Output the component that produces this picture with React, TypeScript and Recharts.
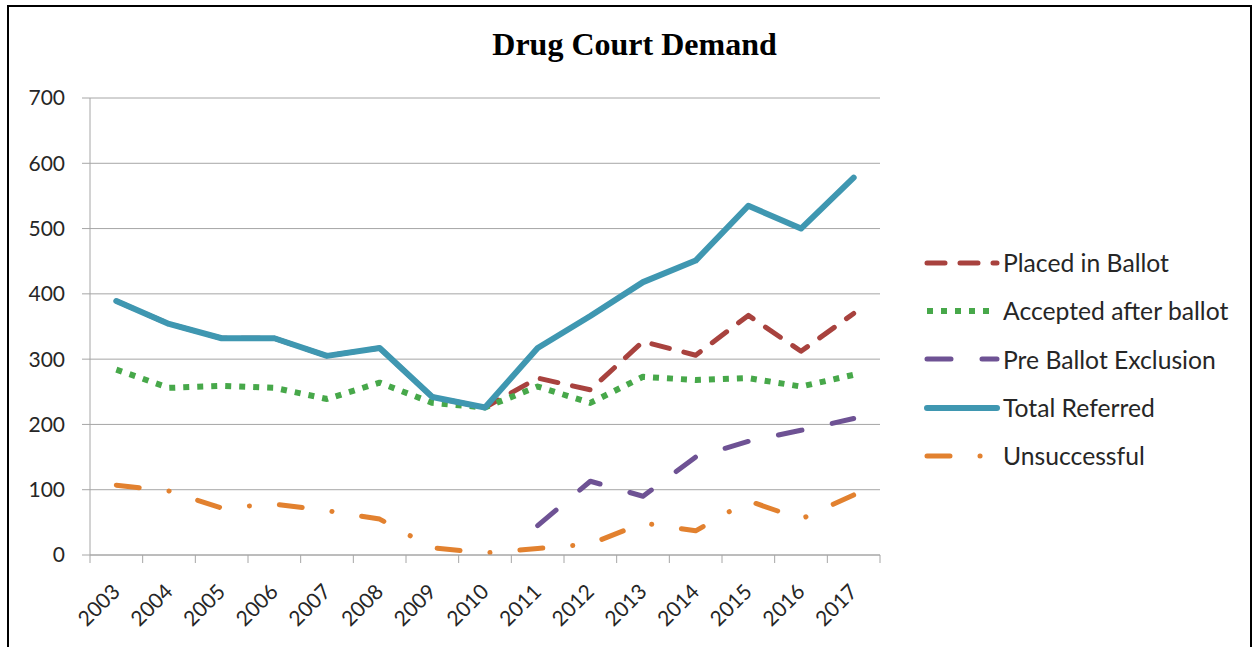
import React from 'react';
import { CartesianGrid, Line, LineChart, XAxis, YAxis } from 'recharts';

const years = ['2003', '2004', '2005', '2006', '2007', '2008', '2009', '2010', '2011', '2012', '2013', '2014', '2015', '2016', '2017'];
const placedInBallot = [389, 354, 332, 332, 305, 317, 242, 226, 271, 253, 327, 306, 367, 312, 370];
const acceptedAfterBallot = [284, 256, 259, 256, 239, 264, 233, 226, 258, 233, 273, 268, 271, 258, 276];
const preBallotExclusion = [null, null, null, null, null, null, null, null, 45, 113, 90, 150, 174, 191, 209];
const totalReferred = [389, 354, 332, 332, 305, 317, 242, 226, 317, 366, 418, 451, 535, 500, 578];
const unsuccessful = [107, 98, 72, 78, 68, 55, 11, 3, 10, 17, 49, 37, 83, 55, 92];
const yTicks = [0, 100, 200, 300, 400, 500, 600, 700];

const data = years.map((year, i) => ({
  year,
  placed: placedInBallot[i],
  accepted: acceptedAfterBallot[i],
  preBallot: preBallotExclusion[i],
  total: totalReferred[i],
  unsuccessful: unsuccessful[i],
}));

const W = 1257;
const H = 647;
const PLOT_LEFT = 90;
const PLOT_RIGHT = 880;
const PLOT_TOP = 98;
const PLOT_BOTTOM = 555;
const BAND = (PLOT_RIGHT - PLOT_LEFT) / years.length;

const GRID = '#a6a6a6';
const TEXT = '#262626';
const FONT = 'Lato, "Open Sans", sans-serif';

const series = [
  { key: 'placed', name: 'Placed in Ballot', color: '#a8423e', width: 5, dash: '18 15', cap: 'round' },
  { key: 'accepted', name: 'Accepted after ballot', color: '#47a84a', width: 6, dash: '6 8', cap: 'butt' },
  { key: 'preBallot', name: 'Pre Ballot Exclusion', color: '#6e5294', width: 5, dash: '24 31', cap: 'round' },
  { key: 'total', name: 'Total Referred', color: '#3f97b1', width: 6, dash: undefined, cap: 'round' },
  { key: 'unsuccessful', name: 'Unsuccessful', color: '#e2812f', width: 5, dash: '23 30 0.1 30', cap: 'round' },
];

// year label plus Excel-style tick marks between categories
function YearTick(props: any) {
  const { x, y, payload, index } = props;
  const last = index === years.length - 1;
  return (
    <g>
      <line x1={x - BAND / 2} x2={x - BAND / 2} y1={y} y2={y + 8} stroke={GRID} />
      {last && <line x1={x + BAND / 2} x2={x + BAND / 2} y1={y} y2={y + 8} stroke={GRID} />}
      <text
        x={x + 5}
        y={y + 38}
        textAnchor="end"
        transform={`rotate(-45 ${x + 5} ${y + 38})`}
        fontSize={21}
        fontFamily={FONT}
        fill={TEXT}
      >
        {payload.value}
      </text>
    </g>
  );
}

function LegendBox() {
  return (
    <div style={{ position: 'absolute', left: 924, top: 262.7, fontFamily: FONT, fontSize: 24.7, color: TEXT }}>
      {series.map((s, i) => (
        <div
          key={s.key}
          style={{ position: 'absolute', top: i * 48.3 - 15, left: 0, height: 30, display: 'flex', alignItems: 'center', whiteSpace: 'nowrap' }}
        >
          <svg width={79} height={12} style={{ display: 'block' }}>
            <line
              x1={3}
              x2={73}
              y1={6}
              y2={6}
              stroke={s.color}
              strokeWidth={s.width}
              strokeDasharray={s.dash}
              strokeLinecap={s.cap as any}
            />
          </svg>
          <span>{s.name}</span>
        </div>
      ))}
    </div>
  );
}

export default function App() {
  return (
    <div style={{ position: 'absolute', left: 0, top: 0, width: W, height: H, overflow: 'hidden', background: '#fff' }}>
      <div
        style={{
          position: 'absolute',
          left: 7,
          top: 5,
          width: 1245,
          height: H - 5,
          boxSizing: 'border-box',
          borderTop: '2px solid #000',
          borderLeft: '2px solid #000',
          borderRight: '2px solid #000',
        }}
      />
      <div
        style={{
          position: 'absolute',
          left: 0,
          width: W,
          top: 26,
          textAlign: 'center',
          paddingLeft: 6,
          fontFamily: '"Liberation Serif", "Times New Roman", serif',
          fontWeight: 'bold',
          fontSize: 32,
          color: '#000',
        }}
      >
        Drug Court Demand
      </div>
      <div style={{ position: 'absolute', left: 0, top: 0 }}>
        <LineChart
          width={W}
          height={H}
          data={data}
          margin={{ top: PLOT_TOP, right: W - PLOT_RIGHT, bottom: 0, left: 10 }}
        >
          <CartesianGrid vertical={false} stroke={GRID} strokeWidth={1} />
          <XAxis
            dataKey="year"
            interval={0}
            height={H - PLOT_BOTTOM}
            tickSize={0}
            tickMargin={0}
            tickLine={false}
            axisLine={{ stroke: GRID }}
            padding={{ left: BAND / 2, right: BAND / 2 }}
            tick={<YearTick />}
          />
          <YAxis
            width={PLOT_LEFT - 10}
            domain={[0, 700]}
            ticks={yTicks}
            tickSize={8}
            tickMargin={17}
            axisLine={{ stroke: GRID }}
            tickLine={{ stroke: GRID }}
            tick={{ fontSize: 21, fontFamily: FONT, fill: TEXT }}
          />
          {series.map((s) => (
            <Line
              key={s.key}
              dataKey={s.key}
              name={s.name}
              type="linear"
              stroke={s.color}
              strokeWidth={s.width}
              strokeDasharray={s.dash}
              strokeLinecap={s.cap as any}
              strokeLinejoin="round"
              dot={false}
              activeDot={false}
              isAnimationActive={false}
            />
          ))}
        </LineChart>
      </div>
      <LegendBox />
    </div>
  );
}
